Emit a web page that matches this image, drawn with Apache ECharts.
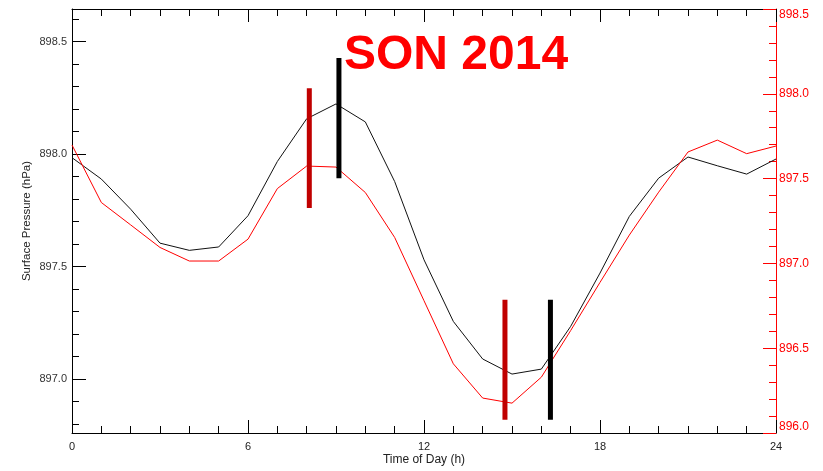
<!DOCTYPE html>
<html>
<head>
<meta charset="utf-8">
<script src="https://cdn.jsdelivr.net/npm/echarts@6/dist/echarts.min.js"></script>
<style>
html,body{margin:0;padding:0;background:#fff;}
#chart{width:823px;height:471px;}
</style>
</head>
<body>
<div id="chart"></div>
<script>
var hours = [0,1,2,3,4,5,6,7,8,9,10,11,12,13,14,15,16,17,18,19,20,21,22,23,24];
var blackValues = [897.984,897.889,897.755,897.604,897.572,897.587,897.726,897.967,898.157,898.223,898.143,897.878,897.530,897.256,897.089,897.022,897.044,897.234,897.471,897.723,897.893,897.987,897.948,897.911,897.978];
var redValues = [897.698,897.359,897.227,897.094,897.014,897.014,897.143,897.441,897.574,897.568,897.418,897.153,896.780,896.408,896.206,896.176,896.329,896.604,896.888,897.167,897.420,897.657,897.727,897.647,897.692];
var redBarHours = [8.09, 14.76];
var blackBarHours = [9.10, 16.31];
var redBarRanges = [[898.293, 897.760],[897.352, 896.819]];
var blackBarRanges = [[898.427, 897.893],[897.352, 896.819]];
var xTickLabels = [0, 6, 12, 18, 24];
var leftTickLabels = [897.0, 897.5, 898.0, 898.5];
var leftMinorTicks = [896.8,896.9,897.0,897.1,897.2,897.3,897.4,897.5,897.6,897.7,897.8,897.9,898.0,898.1,898.2,898.3,898.4,898.5,898.6];
var rightTickLabels = [896.0, 896.5, 897.0, 897.5, 898.0, 898.5];
var titleText = 'SON 2014';

var LEFT_MIN = 896.76, LEFT_MAX = 898.645;
var FONT = 'Liberation Sans, Arial, sans-serif';

function pairs(xs, ys){ return xs.map(function(x,i){ return [x, ys[i]]; }); }

var series = [
  {type:'line', data: pairs(hours, blackValues), xAxisIndex:0, yAxisIndex:0, showSymbol:false, symbol:'none',
   lineStyle:{color:'#111', width:1}, z:3},
  {type:'line', data: pairs(hours, redValues), xAxisIndex:0, yAxisIndex:2, showSymbol:false, symbol:'none',
   lineStyle:{color:'#ff0000', width:1}, z:3}
];
redBarHours.forEach(function(h,i){
  series.push({type:'line', data:[[h, redBarRanges[i][0]],[h, redBarRanges[i][1]]], xAxisIndex:0, yAxisIndex:0,
    symbol:'none', lineStyle:{color:'#c00000', width:5, cap:'butt'}, z:4});
});
blackBarHours.forEach(function(h,i){
  series.push({type:'line', data:[[h, blackBarRanges[i][0]],[h, blackBarRanges[i][1]]], xAxisIndex:0, yAxisIndex:0,
    symbol:'none', lineStyle:{color:'#000', width:5, cap:'butt'}, z:4});
});

var option = {
  animation:false,
  backgroundColor:'#fff',
  title:{text:titleText, left:339, top:27,
    textStyle:{color:'#ff0000', fontSize:48, fontWeight:'bold', fontFamily:FONT}},
  grid:{left:72, right:47, top:9, bottom:38, containLabel:false, outerBoundsMode:'none'},
  xAxis:[
    {type:'value', position:'bottom', min:0, max:24, interval:6,
     name:'Time of Day (h)', nameLocation:'middle', nameGap:21, nameMoveOverlap:false,
     nameTextStyle:{fontFamily:FONT, fontSize:12, color:'#222'},
     axisLine:{show:true, lineStyle:{color:'#000', width:1}},
     axisTick:{show:true, inside:true, length:13, lineStyle:{color:'#000'}},
     minorTick:{show:true, splitNumber:6, length:7, lineStyle:{color:'#000'}},
     axisLabel:{show:true, margin:8, customValues:xTickLabels, fontFamily:FONT, fontSize:11, color:'#222',
       formatter:function(v){return String(v);}},
     splitLine:{show:false}, minorSplitLine:{show:false}},
    {type:'value', position:'top', min:0, max:24, interval:6,
     axisLine:{show:true, lineStyle:{color:'#000', width:1}},
     axisTick:{show:true, inside:true, length:13, lineStyle:{color:'#000'}},
     minorTick:{show:true, splitNumber:6, length:7, lineStyle:{color:'#000'}},
     axisLabel:{show:false}, splitLine:{show:false}}
  ],
  yAxis:[
    {type:'value', position:'left', min:LEFT_MIN, max:LEFT_MAX, offset:0,
     name:'Surface Pressure (hPa)', nameLocation:'middle', nameGap:39, nameMoveOverlap:false,
     nameTextStyle:{fontFamily:FONT, fontSize:11.5, color:'#222'},
     axisLine:{show:true, lineStyle:{color:'#000', width:1}},
     axisTick:{show:true, inside:true, length:7, customValues:leftMinorTicks, lineStyle:{color:'#000'}},
     axisLabel:{show:true, margin:5, customValues:leftTickLabels, fontFamily:FONT, fontSize:11, color:'#333',
       formatter:function(v){return v.toFixed(1);}},
     splitLine:{show:false}},
    {type:'value', position:'left', min:LEFT_MIN, max:LEFT_MAX, offset:0,
     axisLine:{show:false},
     axisTick:{show:true, inside:true, length:14, customValues:leftTickLabels, lineStyle:{color:'#000'}},
     axisLabel:{show:false}, splitLine:{show:false}},
    {type:'value', position:'right', min:896.0, max:898.5, interval:0.5, offset:0,
     axisLine:{show:true, lineStyle:{color:'#ff0000', width:1}},
     axisTick:{show:true, inside:true, length:13, lineStyle:{color:'#ff0000'}},
     minorTick:{show:true, splitNumber:5, length:7, lineStyle:{color:'#ff0000'}},
     axisLabel:{show:true, margin:3, fontFamily:FONT, fontSize:12, color:'#ff0000',
       customValues:rightTickLabels, verticalAlignMaxLabel:'top', verticalAlignMinLabel:'bottom',
       formatter:function(v){return v.toFixed(1);}},
     splitLine:{show:false}, minorSplitLine:{show:false}}
  ],
  series: series
};
var chart = echarts.init(document.getElementById('chart'), null, {renderer:'canvas'});
chart.setOption(option);
</script>
</body>
</html>
